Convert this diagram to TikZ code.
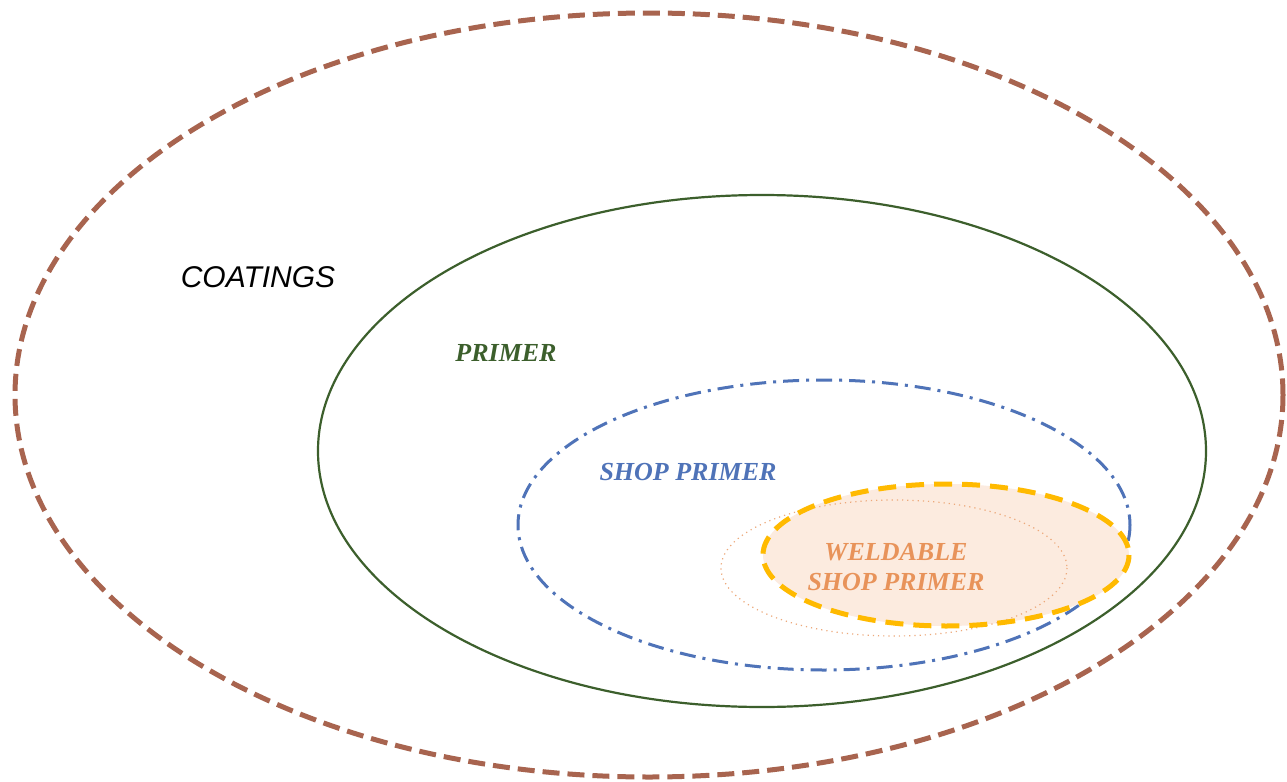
\documentclass[tikz,border=0pt]{standalone}
\usepackage{fontspec}
\setmainfont{Liberation Serif}
\setsansfont{Liberation Sans}
\begin{document}
\begin{tikzpicture}[x=0.5pt,y=-0.5pt,
  lbl/.style={font=\fontsize{13}{15}\selectfont\bfseries\itshape, align=center}]
\definecolor{coatc}{HTML}{A8644F}
\definecolor{primc}{HTML}{3C5F2C}
\definecolor{shopc}{HTML}{4F73B8}
\definecolor{weldc}{HTML}{E8935A}
\definecolor{weldfill}{HTML}{FCEBDF}
\definecolor{goldc}{HTML}{FFBA00}
\useasboundingbox (0,0) rectangle (1287,782);
\fill[white] (0,0) rectangle (1287,782);
\draw[coatc, line width=2.5pt, dash pattern=on 8.5pt off 4pt] (649,395) ellipse [x radius=634, y radius=382];
\draw[primc, line width=1.1pt] (762,451) ellipse [x radius=444, y radius=256];
\draw[shopc, line width=1.5pt, dash pattern=on 8pt off 3.5pt on 1.5pt off 3.5pt] (824,525) ellipse [x radius=306, y radius=145];
\fill[weldfill] (946,555) ellipse [x radius=183, y radius=71];
\draw[weldc!80, line width=0.6pt, dotted] (894,568) ellipse [x radius=173, y radius=68];
\draw[goldc, line width=2.5pt, dash pattern=on 9pt off 5pt] (946,555) ellipse [x radius=183, y radius=71];
\node[font=\fontsize{15}{17}\selectfont\sffamily\itshape] (coat) at (258,277) {COATINGS};
\node[lbl, text=primc] (prim) at (506,353) {PRIMER};
\node[lbl, text=shopc] (shop) at (688,472) {SHOP PRIMER};
\node[lbl, text=weldc] (weld) at (896,567) {WELDABLE\\SHOP PRIMER};
\end{tikzpicture}
\end{document}
